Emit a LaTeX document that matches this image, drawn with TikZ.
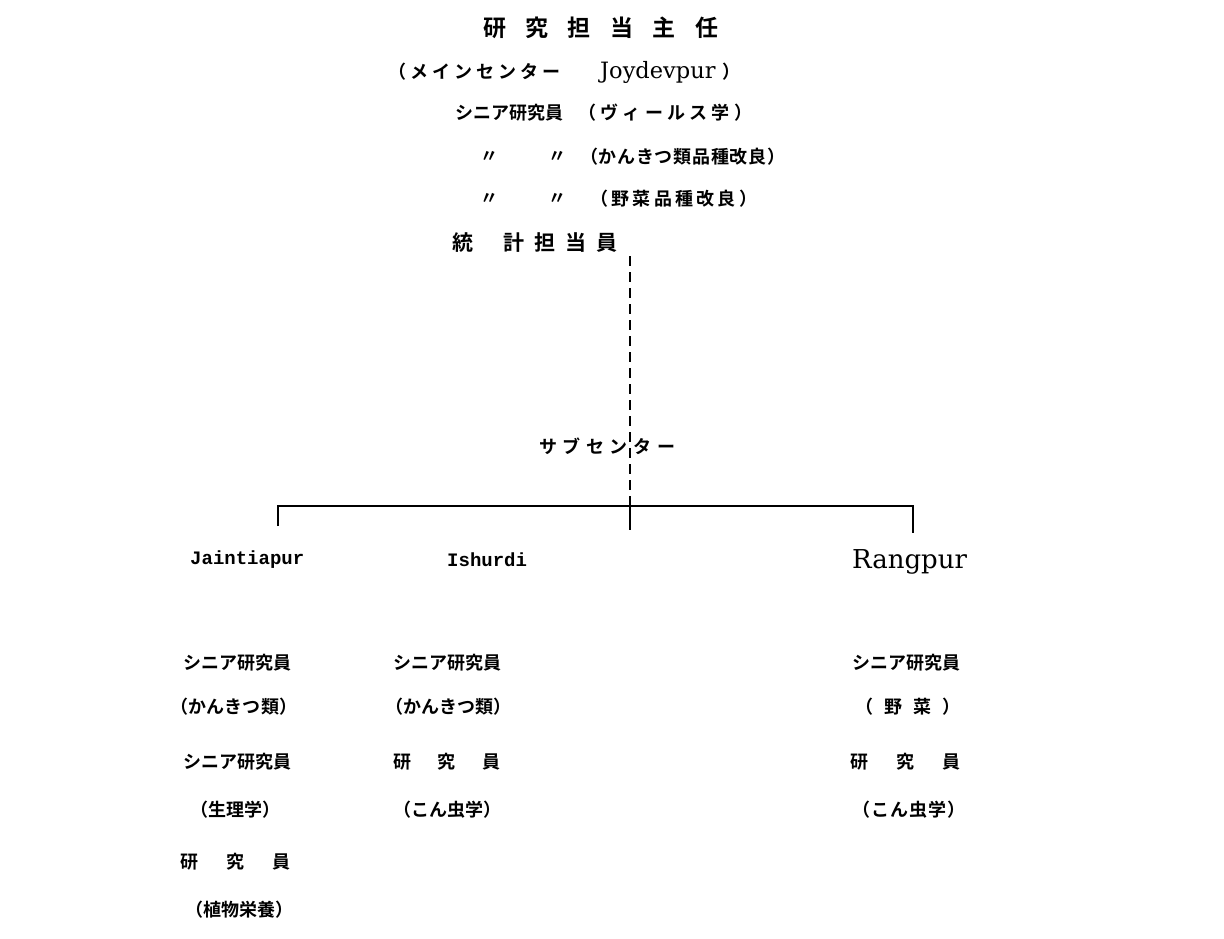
\documentclass[tikz,border=0pt]{standalone}
\usepackage{fontspec}
\newfontfamily\jp{Noto Sans CJK JP}[BoldFont=* Bold]
\newfontfamily\dser{DejaVu Serif}
\newfontfamily\lmono{Liberation Mono}
\newcommand\sbx[2]{\makebox[#1][s]{#2}}
\tikzset{
  jt/.style={inner sep=0pt, anchor=west, font=\jp\bfseries\fontsize{18}{18}\selectfont},
  jbig/.style={inner sep=0pt, anchor=west, font=\jp\bfseries\fontsize{23}{23}\selectfont},
  jmid/.style={inner sep=0pt, anchor=west, font=\jp\bfseries\fontsize{21}{21}\selectfont},
  ser/.style={inner sep=0pt, anchor=west, font=\dser\fontsize{22.5}{22.5}\selectfont},
  mono/.style={inner sep=0pt, anchor=west, font=\lmono\bfseries\fontsize{19}{19}\selectfont},
  conn/.style={line width=1.8pt},
  dashline/.style={line width=1.8pt, dash pattern=on 10pt off 6pt}
}
\begin{document}
\begin{tikzpicture}[x=1pt,y=-1pt]
\useasboundingbox (0,0) rectangle (1224,939);
\fill[white] (0,0) rectangle (1224,939);
% top block
\node[jbig] (title) at (483,28) {\sbx{235pt}{研\hfill 究\hfill 担\hfill 当\hfill 主\hfill 任}};
\node[jt] (mainc) at (388,72) {\sbx{172pt}{（\hfill メ\hfill イ\hfill ン\hfill セ\hfill ン\hfill タ\hfill ー}};
\node[ser] (joy) at (600,72) {Joydevpur};
\node[jt] (joyp) at (722,72) {）};
\node[jt] (sr1) at (455,113) {\sbx{106pt}{シ\hfill ニ\hfill ア\hfill 研\hfill 究\hfill 員}};
\node[jt] (vir) at (578,113) {\sbx{174pt}{（\hfill ヴ\hfill ィ\hfill ー\hfill ル\hfill ス\hfill 学\hfill ）}};
\node[jt] (d1) at (480,157) {〃};
\node[jt] (d2) at (548,157) {〃};
\node[jt] (cit) at (580,157) {\sbx{205pt}{（\hfill か\hfill ん\hfill き\hfill つ\hfill 類\hfill 品\hfill 種\hfill 改\hfill 良\hfill ）}};
\node[jt] (d3) at (480,199) {〃};
\node[jt] (d4) at (548,199) {〃};
\node[jt] (veg) at (590,199) {\sbx{167pt}{（\hfill 野\hfill 菜\hfill 品\hfill 種\hfill 改\hfill 良\hfill ）}};
\node[jmid] (stat1) at (452,243) {統};
\node[jmid] (stat2) at (503,243) {\sbx{114pt}{計\hfill 担\hfill 当\hfill 員}};
% sub center
\node[jt] (sub) at (539,446) {\sbx{136pt}{サ\hfill ブ\hfill セ\hfill ン\hfill タ\hfill ー}};
% connectors
\coordinate (dtop) at (630,256);
\coordinate (hub) at (630,506);
\coordinate (hl) at (278,506);
\coordinate (hr) at (913,506);
\coordinate (jtk) at (278,526);
\coordinate (itk) at (630,530);
\coordinate (rtk) at (913,533);
\draw[dashline] (dtop) -- (hub);
\draw[conn] (jtk) -- (hl) -- (hr) -- (rtk);
\draw[conn] (hub) -- (itk);
% places
\node[mono] (jai) at (190,560) {Jaintiapur};
\node[mono] (ish) at (447,560) {Ishurdi};
\node[ser, font=\dser\fontsize{26}{26}\selectfont] (ran) at (852,562) {Rangpur};
% left column
\node[jt] (l1) at (183,663) {\sbx{107pt}{シ\hfill ニ\hfill ア\hfill 研\hfill 究\hfill 員}};
\node[jt] (l2) at (170,707) {\sbx{127pt}{（\hfill か\hfill ん\hfill き\hfill つ\hfill 類\hfill ）}};
\node[jt] (l3) at (183,762) {\sbx{107pt}{シ\hfill ニ\hfill ア\hfill 研\hfill 究\hfill 員}};
\node[jt] (l4) at (190,810) {\sbx{90pt}{（\hfill 生\hfill 理\hfill 学\hfill ）}};
\node[jt] (l5) at (180,862) {\sbx{110pt}{研\hfill 究\hfill 員}};
\node[jt] (l6) at (185,910) {\sbx{100pt}{（\hfill 植\hfill 物\hfill 栄\hfill 養\hfill ）}};
% middle column
\node[jt] (m1) at (393,663) {\sbx{107pt}{シ\hfill ニ\hfill ア\hfill 研\hfill 究\hfill 員}};
\node[jt] (m2) at (385,707) {\sbx{125pt}{（\hfill か\hfill ん\hfill き\hfill つ\hfill 類\hfill ）}};
\node[jt] (m3) at (393,762) {\sbx{107pt}{研\hfill 究\hfill 員}};
\node[jt] (m4) at (393,810) {\sbx{107pt}{（\hfill こ\hfill ん\hfill 虫\hfill 学\hfill ）}};
% right column
\node[jt] (r1) at (852,663) {\sbx{108pt}{シ\hfill ニ\hfill ア\hfill 研\hfill 究\hfill 員}};
\node[jt] (r2) at (855,707) {\sbx{105pt}{（\hfill 野\hfill 菜\hfill ）}};
\node[jt] (r3) at (850,762) {\sbx{110pt}{研\hfill 究\hfill 員}};
\node[jt] (r4) at (852,810) {\sbx{113pt}{（\hfill こ\hfill ん\hfill 虫\hfill 学\hfill ）}};
\end{tikzpicture}
\end{document}
